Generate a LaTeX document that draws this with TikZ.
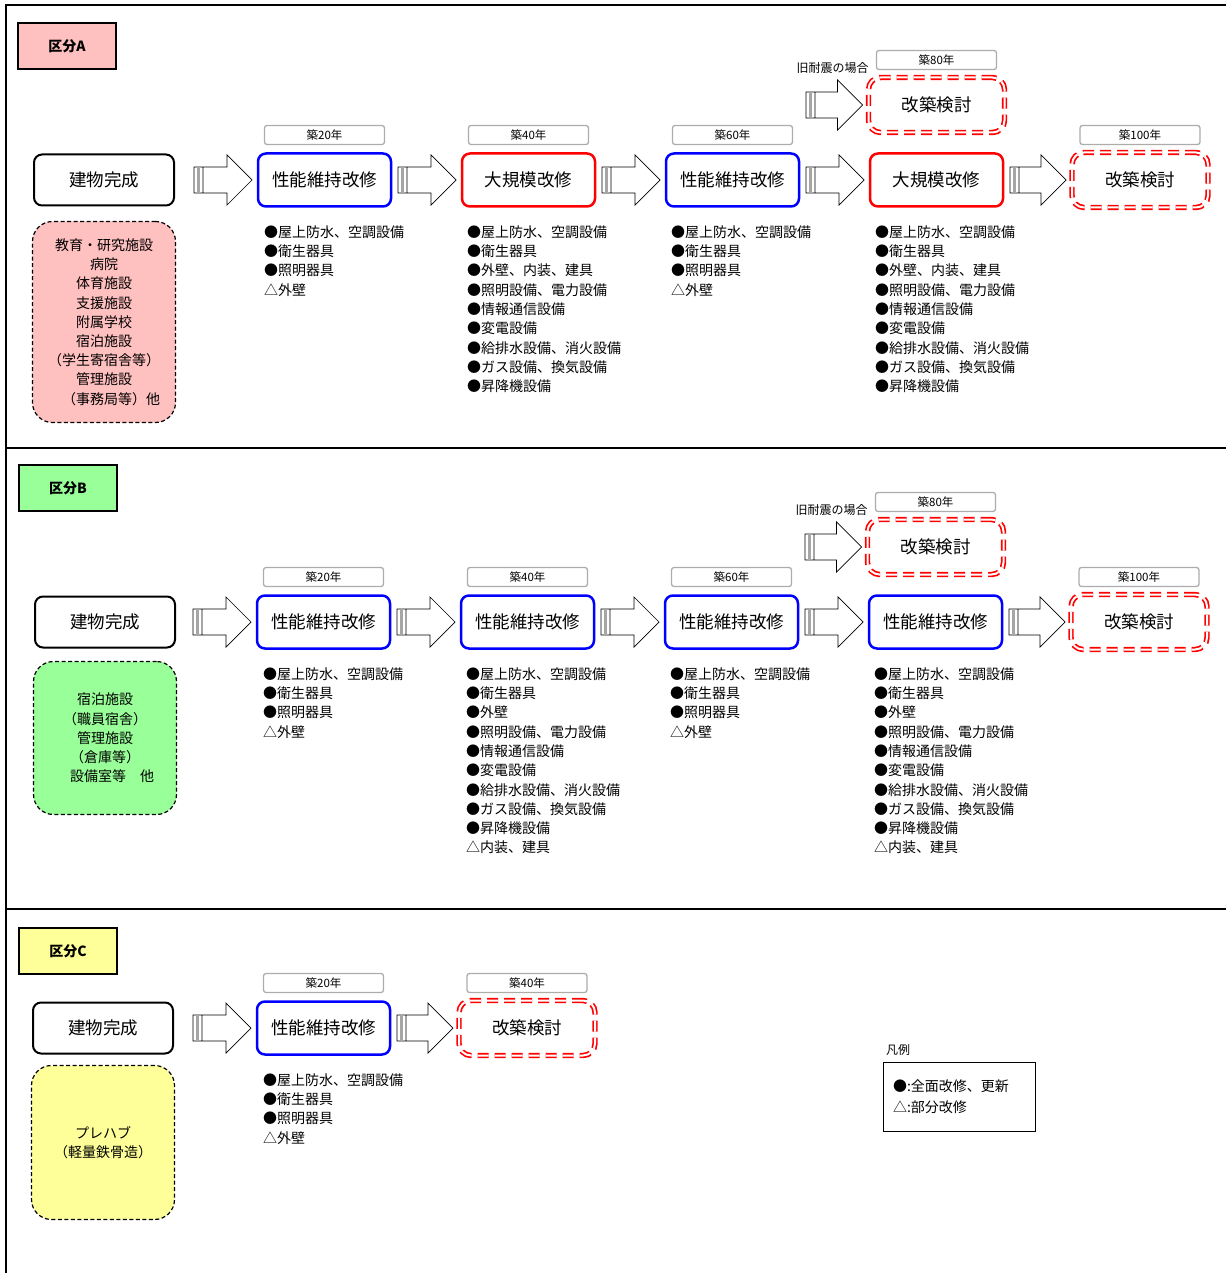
\documentclass[tikz,border=0pt]{standalone}
\usepackage{fontspec}
\setmainfont{Noto Sans CJK JP}
\usetikzlibrary{arrows.meta,positioning,calc}

% hollow block arrow with striped tail, from one node to the next
\newcommand{\blockarrow}[2]{%
    \path[draw=black, line width=0.7pt, fill=white]
        let \p1=(#1.east), \p2=(#2.west),
            \n1={max(\x1+7,\x2-64)}, \n2={\x2-6},
            \n3={\n1+9}, \n4={\n2-25} in
        ({\n3*1pt},{\y2+13pt}) -- ({\n4*1pt},{\y2+13pt}) -- ({\n4*1pt},{\y2+25pt})
        -- ({\n2*1pt},{\y2}) -- ({\n4*1pt},{\y2-25pt}) -- ({\n4*1pt},{\y2-13pt})
        -- ({\n3*1pt},{\y2-13pt})
        ({\n1*1pt},{\y2-13pt}) rectangle ({\n3*1pt},{\y2+13pt});
    \path[fill=gray!70]
        let \p1=(#1.east), \p2=(#2.west),
            \n1={max(\x1+7,\x2-64)} in
        ({\n1*1pt+3pt},{\y2-13pt}) rectangle ({\n1*1pt+6pt},{\y2+13pt});
}

\begin{document}
\begin{tikzpicture}[
        x=1pt, y=-1pt,
        every node/.style={outer sep=0pt},
        doneBox/.style={
            draw=black,
            line width=2pt,
            rounded corners=8pt,
            minimum width=140pt,
            minimum height=51pt,
            inner sep=0pt,
            font=\fontsize{17.5}{20}\selectfont
        },
        keepBox/.style={
            draw=blue,
            line width=2.5pt,
            rounded corners=8pt,
            minimum width=133pt,
            minimum height=53pt,
            inner sep=0pt,
            font=\fontsize{17.5}{20}\selectfont
        },
        majorBox/.style={
            keepBox,
            draw=red
        },
        rebuildBox/.style={
            draw=red,
            line width=1.7pt,
            double=white,
            double distance=2pt,
            dash pattern=on 11pt off 6pt,
            rounded corners=12pt,
            minimum width=136pt,
            minimum height=55pt,
            inner sep=0pt,
            font=\fontsize{17.5}{20}\selectfont
        },
        yearTag/.style={
            draw=gray!65,
            line width=1.3pt,
            fill=white,
            rounded corners=2.5pt,
            minimum width=120pt,
            minimum height=19pt,
            inner sep=0pt,
            font=\fontsize{11.5}{12}\selectfont
        },
        kubunTag/.style={
            draw=black,
            line width=1.5pt,
            minimum width=98pt,
            minimum height=46pt,
            inner sep=0pt,
            font=\fontsize{14}{15}\selectfont\bfseries
        },
        catBox/.style={
            draw=black,
            line width=1.2pt,
            dash pattern=on 4pt off 2.5pt,
            rounded corners=20pt,
            minimum width=143pt,
            align=center,
            inner sep=0pt,
            font=\fontsize{14}{19.2}\selectfont
        },
        itemList/.style={
            inner sep=0pt,
            align=left,
            font=\fontsize{14}{19.3}\selectfont
        },
        note/.style={
            inner sep=0pt,
            font=\fontsize{12}{14}\selectfont
        },
        legendBox/.style={
            draw=black,
            line width=0.8pt,
            text width=132pt,
            inner xsep=10pt,
            minimum height=69pt,
            align=left,
            font=\fontsize{14}{21}\selectfont
        }
    ]

        \useasboundingbox (0,0) rectangle (1226,1273);

        % Frame and section rules
        \draw[line width=1.3pt] (1226,5) -- (6,5) -- (6,1273);
        \draw[line width=1.3pt] (6,448) -- (1226,448);
        \draw[line width=1.3pt] (6,909) -- (1226,909);

        % ---------------- Section A ----------------
        \node[kubunTag, fill={rgb,255:red,255;green,192;blue,192}] (kubunA) at (67,46) {区分A};

        \node[doneBox] (doneA) at (104,180) {建物完成};
        \node[keepBox, right=84pt of doneA] (keepA1) {性能維持改修};
        \node[majorBox, right=71pt of keepA1] (majorA1) {大規模改修};
        \node[keepBox, right=71pt of majorA1] (keepA2) {性能維持改修};
        \node[majorBox, right=71pt of keepA2] (majorA2) {大規模改修};
        \node[rebuildBox, right=69pt of majorA2] (rebuildA100) {改築検討};
        \node[rebuildBox, above=21pt of majorA2] (rebuildA80) {改築検討};

        \node[yearTag, above=9pt of keepA1] (yearA20) {築20年};
        \node[yearTag, above=9pt of majorA1] (yearA40) {築40年};
        \node[yearTag, above=9pt of keepA2] (yearA60) {築60年};
        \node[yearTag, above=8pt of rebuildA80] (yearA80) {築80年};
        \node[yearTag, above=8pt of rebuildA100] (yearA100) {築100年};
        \node[note, above left=4pt and 0pt of rebuildA80.north west] (oldA) {旧耐震の場合};

        \blockarrow{doneA}{keepA1}
        \blockarrow{keepA1}{majorA1}
        \blockarrow{majorA1}{keepA2}
        \blockarrow{keepA2}{majorA2}
        \blockarrow{majorA2}{rebuildA100}
        \blockarrow{keepA2}{rebuildA80}

        \node[
            catBox,
            minimum height=201pt,
            fill={rgb,255:red,255;green,192;blue,192},
            below=16pt of doneA
        ] (catA) {
            教育・研究施設\\
            病院\\
            体育施設\\
            支援施設\\
            附属学校\\
            宿泊施設\\
            （学生寄宿舎等）\\
            管理施設\\
            \hspace*{1em}（事務局等）他
        };

        \node[itemList, below right=19pt and 6pt of keepA1.south west] (listA1) {
            ●屋上防水、空調設備\\
            ●衛生器具\\
            ●照明器具\\
            △外壁
        };
        \node[itemList, below right=19pt and 5pt of majorA1.south west] (listA2) {
            ●屋上防水、空調設備\\
            ●衛生器具\\
            ●外壁、内装、建具\\
            ●照明設備、電力設備\\
            ●情報通信設備\\
            ●変電設備\\
            ●給排水設備、消火設備\\
            ●ガス設備、換気設備\\
            ●昇降機設備
        };
        \node[itemList, below right=19pt and 5pt of keepA2.south west] (listA3) {
            ●屋上防水、空調設備\\
            ●衛生器具\\
            ●照明器具\\
            △外壁
        };
        \node[itemList, below right=19pt and 5pt of majorA2.south west] (listA4) {
            ●屋上防水、空調設備\\
            ●衛生器具\\
            ●外壁、内装、建具\\
            ●照明設備、電力設備\\
            ●情報通信設備\\
            ●変電設備\\
            ●給排水設備、消火設備\\
            ●ガス設備、換気設備\\
            ●昇降機設備
        };

        % ---------------- Section B ----------------
        \node[kubunTag, fill={rgb,255:red,153;green,255;blue,153}] (kubunB) at (68,488) {区分B};

        \node[doneBox] (doneB) at (105,622) {建物完成};
        \node[keepBox, right=82pt of doneB] (keepB1) {性能維持改修};
        \node[keepBox, right=71pt of keepB1] (keepB2) {性能維持改修};
        \node[keepBox, right=71pt of keepB2] (keepB3) {性能維持改修};
        \node[keepBox, right=71pt of keepB3] (keepB4) {性能維持改修};
        \node[rebuildBox, right=69pt of keepB4] (rebuildB100) {改築検討};
        \node[rebuildBox, above=21pt of keepB4] (rebuildB80) {改築検討};

        \node[yearTag, above=9pt of keepB1] (yearB20) {築20年};
        \node[yearTag, above=9pt of keepB2] (yearB40) {築40年};
        \node[yearTag, above=9pt of keepB3] (yearB60) {築60年};
        \node[yearTag, above=8pt of rebuildB80] (yearB80) {築80年};
        \node[yearTag, above=8pt of rebuildB100] (yearB100) {築100年};
        \node[note, above left=4pt and 0pt of rebuildB80.north west] (oldB) {旧耐震の場合};

        \blockarrow{doneB}{keepB1}
        \blockarrow{keepB1}{keepB2}
        \blockarrow{keepB2}{keepB3}
        \blockarrow{keepB3}{keepB4}
        \blockarrow{keepB4}{rebuildB100}
        \blockarrow{keepB3}{rebuildB80}

        \node[
            catBox,
            minimum height=153pt,
            fill={rgb,255:red,153;green,255;blue,153},
            below=14pt of doneB
        ] (catB) {
            宿泊施設\\
            （職員宿舎）\\
            管理施設\\
            （倉庫等）\\
            \hspace*{1em}設備室等　他
        };

        \node[itemList, below right=19pt and 6pt of keepB1.south west] (listB1) {
            ●屋上防水、空調設備\\
            ●衛生器具\\
            ●照明器具\\
            △外壁
        };
        \node[itemList, below right=19pt and 5pt of keepB2.south west] (listB2) {
            ●屋上防水、空調設備\\
            ●衛生器具\\
            ●外壁\\
            ●照明設備、電力設備\\
            ●情報通信設備\\
            ●変電設備\\
            ●給排水設備、消火設備\\
            ●ガス設備、換気設備\\
            ●昇降機設備\\
            △内装、建具
        };
        \node[itemList, below right=19pt and 5pt of keepB3.south west] (listB3) {
            ●屋上防水、空調設備\\
            ●衛生器具\\
            ●照明器具\\
            △外壁
        };
        \node[itemList, below right=19pt and 5pt of keepB4.south west] (listB4) {
            ●屋上防水、空調設備\\
            ●衛生器具\\
            ●外壁\\
            ●照明設備、電力設備\\
            ●情報通信設備\\
            ●変電設備\\
            ●給排水設備、消火設備\\
            ●ガス設備、換気設備\\
            ●昇降機設備\\
            △内装、建具
        };

        % ---------------- Section C ----------------
        \node[kubunTag, fill={rgb,255:red,255;green,255;blue,153}] (kubunC) at (68,951) {区分C};

        \node[doneBox] (doneC) at (103,1028) {建物完成};
        \node[keepBox, right=84pt of doneC] (keepC1) {性能維持改修};
        \node[rebuildBox, right=69pt of keepC1] (rebuildC40) {改築検討};

        \node[yearTag, above=9pt of keepC1] (yearC20) {築20年};
        \node[yearTag, above=8pt of rebuildC40] (yearC40) {築40年};

        \blockarrow{doneC}{keepC1}
        \blockarrow{keepC1}{rebuildC40}

        \node[
            catBox,
            minimum height=154pt,
            fill={rgb,255:red,255;green,255;blue,153},
            below=12pt of doneC
        ] (catC) {
            プレハブ\\
            （軽量鉄骨造）
        };

        \node[itemList, below right=19pt and 6pt of keepC1.south west] (listC1) {
            ●屋上防水、空調設備\\
            ●衛生器具\\
            ●照明器具\\
            △外壁
        };

        % Legend
        \node[legendBox] (legend) at (959,1096.5) {
            ●:全面改修、更新\\
            △:部分改修
        };
        \node[note, above right=7pt and 3pt of legend.north west] (legendTitle) {凡例};

    \end{tikzpicture}
\end{document}
